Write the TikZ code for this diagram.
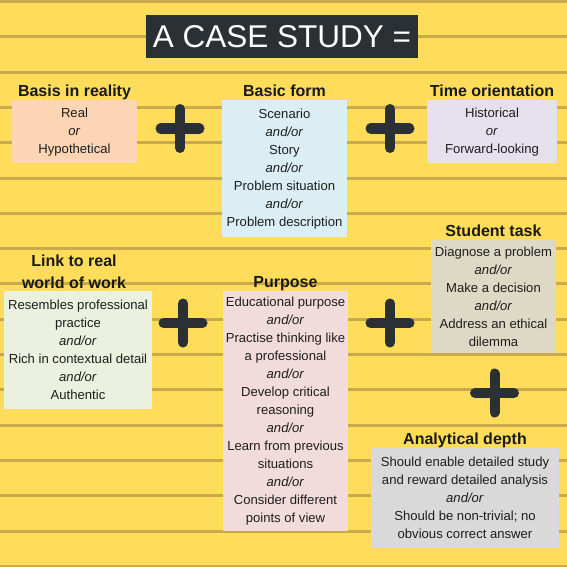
\documentclass[tikz,border=0pt]{standalone}
\usepackage{fontspec}
\setmainfont{Liberation Sans}
\usetikzlibrary{positioning}
\definecolor{paper}{HTML}{FFDC5A}
\definecolor{ruling}{HTML}{C9A94B}
\definecolor{slate}{HTML}{2B3035}
\definecolor{ink}{HTML}{1E1E1E}
\definecolor{peach}{HTML}{FCD5B4}
\definecolor{skyblue}{HTML}{DAEEF3}
\definecolor{lavender}{HTML}{E5E0EC}
\definecolor{sage}{HTML}{EBF1DE}
\definecolor{blush}{HTML}{F2DCDB}
\definecolor{sand}{HTML}{DDD9C4}
\definecolor{ash}{HTML}{D9D9D9}

\begin{document}
\begin{tikzpicture}[x=1pt,y=-1pt,
  rule/.style={draw=ruling,line width=3pt},
  title/.style={fill=slate,text=white,font=\fontsize{31.5}{31.5}\selectfont,
    minimum width=272pt,minimum height=43pt,inner sep=0pt},
  topic/.style={font=\fontsize{16}{22}\selectfont\bfseries,align=center,
    text=black!90,inner xsep=1.5pt,inner ysep=0pt,text depth=3.5pt},
  card/.style={font=\fontsize{13.1}{18}\selectfont,align=center,text=ink,
    inner sep=0pt,anchor=north},
  plusbar/.style={draw=slate,line width=10pt,line cap=round}]

  \useasboundingbox (0,0) rectangle (567,567);
  \fill[paper] (0,0) rectangle (567,567);
  \foreach \k in {0,...,16}
    \draw[rule] (0,{1.5+35.3*\k}) -- (567,{1.5+35.3*\k});

  \node[title] (heading) at (282,36.5) {A CASE STUDY =};

  \node[card,fill=peach,minimum width=125pt,minimum height=63pt]
    (basisbox) at (74.5,100) {Real\\\textit{or}\\Hypothetical};
  \node[topic,above=0pt of basisbox] (basis) {Basis in reality};

  \node[card,fill=skyblue,minimum width=125pt,minimum height=137pt]
    (formbox) at (284.5,100) {Scenario\\\textit{and/or}\\Story\\\textit{and/or}\\
    Problem situation\\\textit{and/or}\\Problem description};
  \node[topic,above=0pt of formbox] (form) {Basic form};

  \node[card,fill=lavender,minimum width=130pt,minimum height=63pt]
    (timebox) at (492,100) {Historical\\\textit{or}\\Forward-looking};
  \node[topic,above=0pt of timebox] (time) {Time orientation};

  \node[card,fill=sage,minimum width=148pt,minimum height=118pt]
    (linkbox) at (78,291) {Resembles professional\\practice\\\textit{and/or}\\
    Rich in contextual detail\\\textit{and/or}\\Authentic};
  \node[topic,above=0pt of linkbox,xshift=-4pt,yshift=-1.5pt] (link) {Link to real\\world of work};

  \node[card,fill=blush,minimum width=125pt,minimum height=240pt]
    (purposebox) at (285.5,291) {Educational purpose\\\textit{and/or}\\
    Practise thinking like\\a professional\\\textit{and/or}\\Develop critical\\
    reasoning\\\textit{and/or}\\Learn from previous\\situations\\\textit{and/or}\\
    Consider different\\points of view};
  \node[topic,above=0pt of purposebox] (purpose) {Purpose};

  \node[card,fill=sand,minimum width=125pt,minimum height=113pt]
    (taskbox) at (493.5,240) {Diagnose a problem\\\textit{and/or}\\
    Make a decision\\\textit{and/or}\\Address an ethical\\dilemma};
  \node[topic,above=0pt of taskbox] (task) {Student task};

  \node[card,fill=ash,minimum width=188pt,minimum height=100pt]
    (depthbox) at (465,448) {Should enable detailed study\\
    and reward detailed analysis\\\textit{and/or}\\
    Should be non-trivial; no\\obvious correct answer};
  \node[topic,above=0pt of depthbox] (depth) {Analytical depth};

  \coordinate (plusA) at (180,128.5);
  \coordinate (plusB) at (390,128.5);
  \coordinate (plusC) at (183,323);
  \coordinate (plusD) at (390,323);
  \coordinate (plusE) at (494.5,393);
  \foreach \p in {plusA,plusB,plusC,plusD,plusE}
    \draw[plusbar] ([xshift=-19.5pt]\p) -- ([xshift=19.5pt]\p)
                   ([yshift=-19.5pt]\p) -- ([yshift=19.5pt]\p);

\end{tikzpicture}
\end{document}
